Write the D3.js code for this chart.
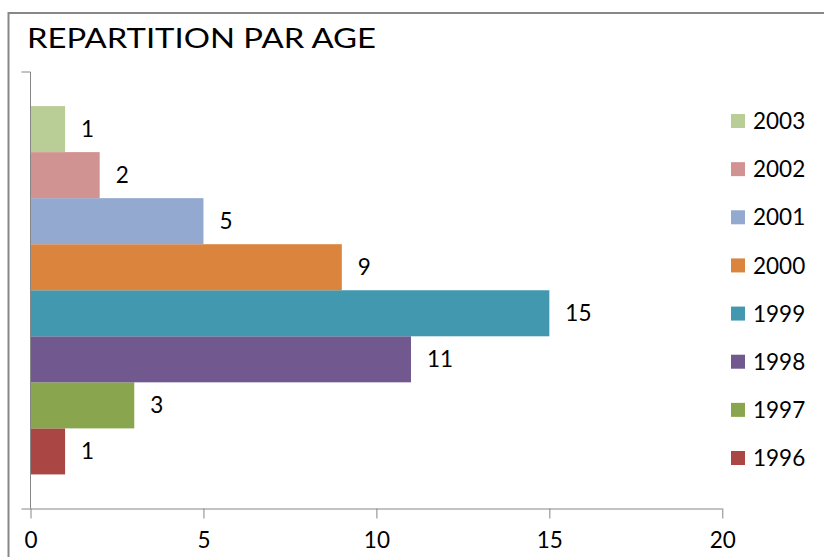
<!DOCTYPE html>
<html>
  <head>
    <title>Repartition par age</title>
    <script src="https://d3js.org/d3.v7.min.js"></script>
    <style>
      body { margin: 0; background: white; }
      svg text { font-family: Lato, "Open Sans", sans-serif; fill: black; }
    </style>
  </head>
  <body>
    <script>
      // data
      const years = ['1996', '1997', '1998', '1999', '2000', '2001', '2002', '2003'];
      const counts = [1, 3, 11, 15, 9, 5, 2, 1];
      const colors = ['#AA4643', '#89A54E', '#71588F', '#4198AF', '#DB843D', '#93A9CF', '#D19392', '#B9CD96'];
      const xTicks = [0, 5, 10, 15, 20];

      const w = 824;
      const h = 557;
      const plotLeft = 30.5, plotRight = 722.3, plotTop = 72, plotBottom = 508.5;

      const svg = d3.select('body').append('svg')
                    .attr('width', w)
                    .attr('height', h);

      // outer frame (cropped on right and bottom)
      svg.append('path')
         .attr('d', `M8.5,${h + 5} L8.5,13 L${w + 5},13`)
         .attr('fill', 'none')
         .attr('stroke', '#878787')
         .attr('stroke-width', 2);

      svg.append('text')
         .attr('x', 27)
         .attr('y', 48)
         .attr('font-size', 26)
         .attr('textLength', 349)
         .attr('lengthAdjust', 'spacingAndGlyphs')
         .text('REPARTITION PAR AGE');

      const x = d3.scaleLinear().domain([0, 20]).range([plotLeft, plotRight]);

      // top of chart is 2003, bottom is 1996
      const y = d3.scaleBand()
                  .domain(years.slice().reverse())
                  .range([plotTop, plotBottom])
                  .paddingInner(0)
                  .paddingOuter(0.74);

      const rows = years.map((yr, i) => ({ year: yr, value: counts[i], color: colors[i] }));

      svg.selectAll('rect.bar')
         .data(rows)
         .enter()
         .append('rect')
         .attr('class', 'bar')
         .attr('x', x(0))
         .attr('y', d => y(d.year))
         .attr('width', d => x(d.value) - x(0))
         .attr('height', y.bandwidth())
         .attr('fill', d => d.color);

      svg.selectAll('text.val')
         .data(rows)
         .enter()
         .append('text')
         .attr('class', 'val')
         .attr('x', d => x(d.value) + 16)
         .attr('y', d => y(d.year) + y.bandwidth() / 2)
         .attr('dy', '0.35em')
         .attr('font-size', 22.5)
         .text(d => d.value);

      // axes
      const xAxis = d3.axisBottom(x)
                      .tickValues(xTicks)
                      .tickSize(10)
                      .tickPadding(14)
                      .tickSizeOuter(0);

      const gx = svg.append('g')
         .attr('transform', `translate(0, ${plotBottom})`)
         .call(xAxis);
      gx.select('.domain').attr('d', `M${plotLeft - 9},0.5H${plotRight}`);
      gx.selectAll('line, path').attr('stroke', '#868686');
      gx.selectAll('text').attr('font-size', 22.5).attr('font-family', 'Lato, sans-serif');

      const ax = svg.append('g');
      ax.append('path')
        .attr('d', `M${plotLeft - 9},${plotTop}H${plotLeft}V${plotBottom}`)
        .attr('fill', 'none')
        .attr('stroke', '#868686');

      // legend
      const legendY = d3.scalePoint()
                        .domain(years.slice().reverse())
                        .range([121, 458]);

      const lg = svg.append('g');
      lg.selectAll('rect')
        .data(rows)
        .enter()
        .append('rect')
        .attr('x', 731)
        .attr('y', d => legendY(d.year) - 7)
        .attr('width', 14)
        .attr('height', 14)
        .attr('fill', d => d.color);

      lg.selectAll('text')
        .data(rows)
        .enter()
        .append('text')
        .attr('x', 753)
        .attr('y', d => legendY(d.year))
        .attr('dy', '0.36em')
        .attr('font-size', 22.5)
        .text(d => d.year);
    </script>
  </body>
</html>
